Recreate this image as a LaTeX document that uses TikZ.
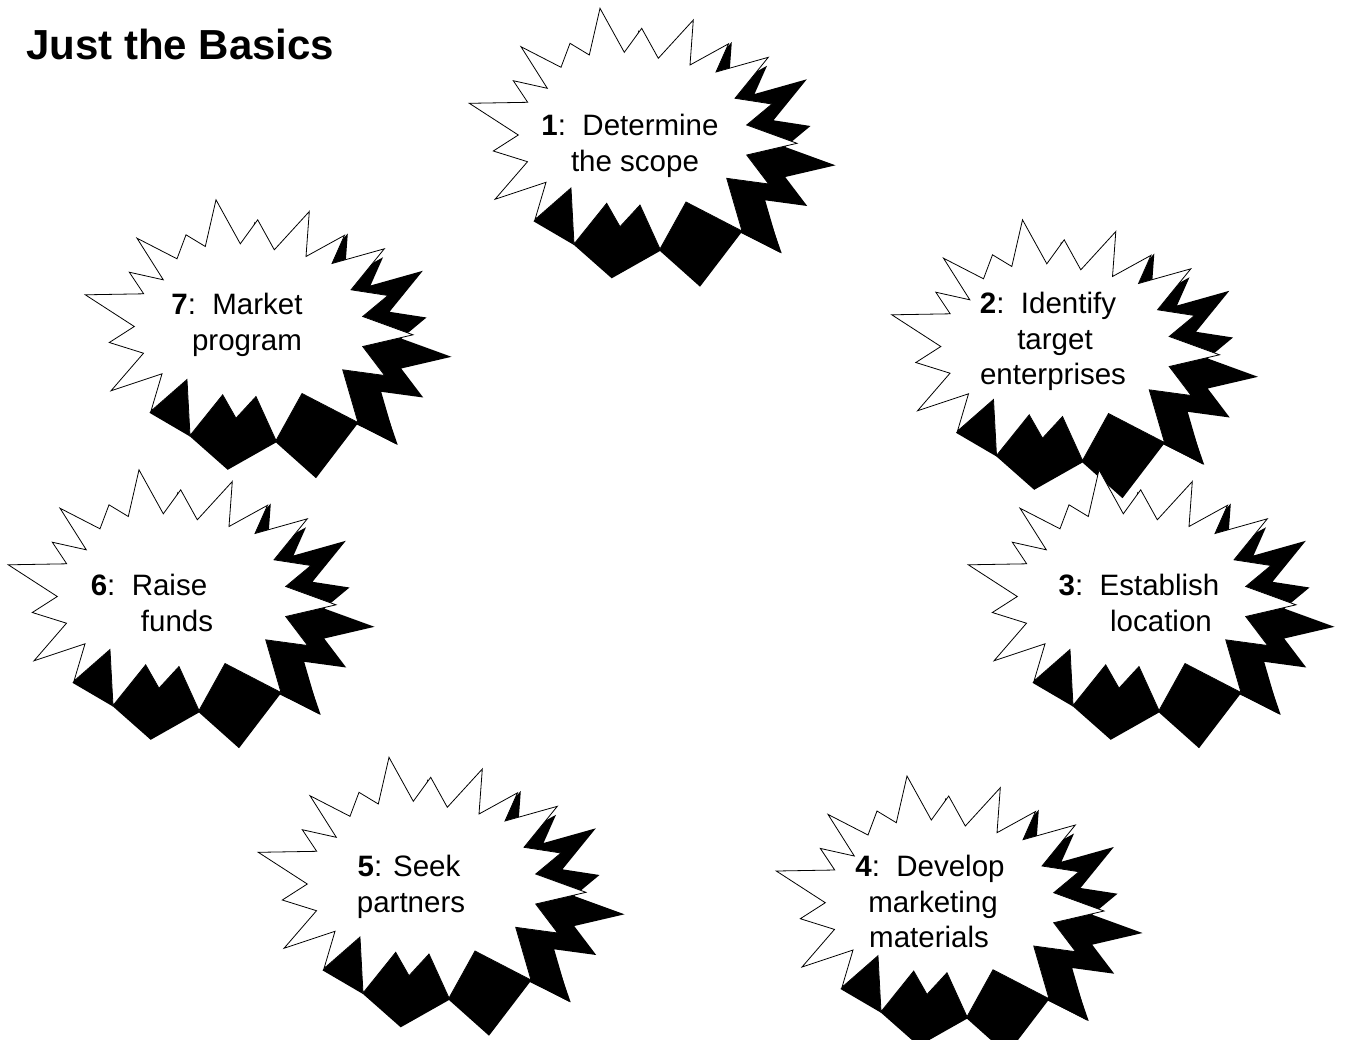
\documentclass[tikz,border=0pt]{standalone}
\usepackage{fontspec}
\setmainfont{Liberation Sans}
\newcommand\burstshape[1]{\path[#1] (600,8.3) -- (624.3,52.3) -- (641.7,28.3) -- (658.3,58.3) -- (693.3,20) -- (690,65) -- (728.5,43.8) -- (716,72) -- (768.3,57.3) -- (735,98.3) -- (772,104) -- (746.7,125) -- (797,143.3) -- (746.7,155) -- (768.7,184) -- (726.7,178.3) -- (742,231) -- (686,202) -- (660,249) -- (640,205) -- (620,226.7) -- (606.7,203.3) -- (574,244) -- (571,188) -- (535,219.5) -- (546,182.3) -- (495,199.3) -- (527.5,161.7) -- (493.3,151) -- (518.3,135) -- (469.3,103.3) -- (527.7,102.3) -- (513.3,80.7) -- (547.3,88.3) -- (521,46.7) -- (561,67.3) -- (570,43.3) -- (589.3,55) -- cycle;}
\newcommand\burstband[1]{\path[#1] (560,200) -- (533.5,221.3) -- (574,245) -- (611.7,278.3) -- (660,251) -- (700,286.7) -- (741,233) -- (781.7,253.3) -- (765,205) -- cycle;}
\newcommand\burstat[2]{\begin{scope}[shift={(#1,#2)}]
  \burstshape{burstshadow}
  \burstband{fill=black}
  \burstshape{burstface}
\end{scope}}
\tikzset{
  burstshadow/.style={fill=black,shift={(38.5,22)}},
  burstface/.style={fill=white,draw=black,line width=0.8pt},
  lbl/.style={anchor=base,inner sep=0pt,font=\fontsize{29.5}{35}\selectfont},
  ttl/.style={anchor=base west,inner sep=0pt,font=\fontsize{42}{50}\selectfont\bfseries}
}
\begin{document}
\begin{tikzpicture}[x=1pt,y=-1pt]
\useasboundingbox (0,0) rectangle (1348,1039);
\fill[white] (0,0) rectangle (1348,1039);
\burstat{0}{0}
\burstat{422.5}{211.5}
\burstat{499}{461.5}
\burstat{307}{767.7}
\burstat{-211}{749}
\burstat{-461}{461.5}
\burstat{-384}{191.5}
\node[ttl] (title) at (26,59) {Just the Basics};
\node[lbl] (l1a) at (630,135) {{\bfseries 1}:~~Determine};
\node[lbl] (l1b) at (635,171) {the scope};
\node[lbl] (l2a) at (1048,313) {{\bfseries 2}:~~Identify};
\node[lbl] (l2b) at (1055,349) {target};
\node[lbl] (l2c) at (1053,384) {enterprises};
\node[lbl] (l3a) at (1139,595) {{\bfseries 3}:~~Establish};
\node[lbl] (l3b) at (1161,631) {location};
\node[lbl] (l4a) at (930,876) {{\bfseries 4}:~~Develop};
\node[lbl] (l4b) at (933,912) {marketing};
\node[lbl] (l4c) at (929,947) {materials};
\node[lbl] (l5a) at (409,876) {{\bfseries 5}: Seek};
\node[lbl] (l5b) at (411,912) {partners};
\node[lbl] (l6a) at (149,595) {{\bfseries 6}:~~Raise};
\node[lbl] (l6b) at (177,631) {funds};
\node[lbl] (l7a) at (237,314) {{\bfseries 7}:~~Market};
\node[lbl] (l7b) at (247,350) {program};
\end{tikzpicture}
\end{document}
